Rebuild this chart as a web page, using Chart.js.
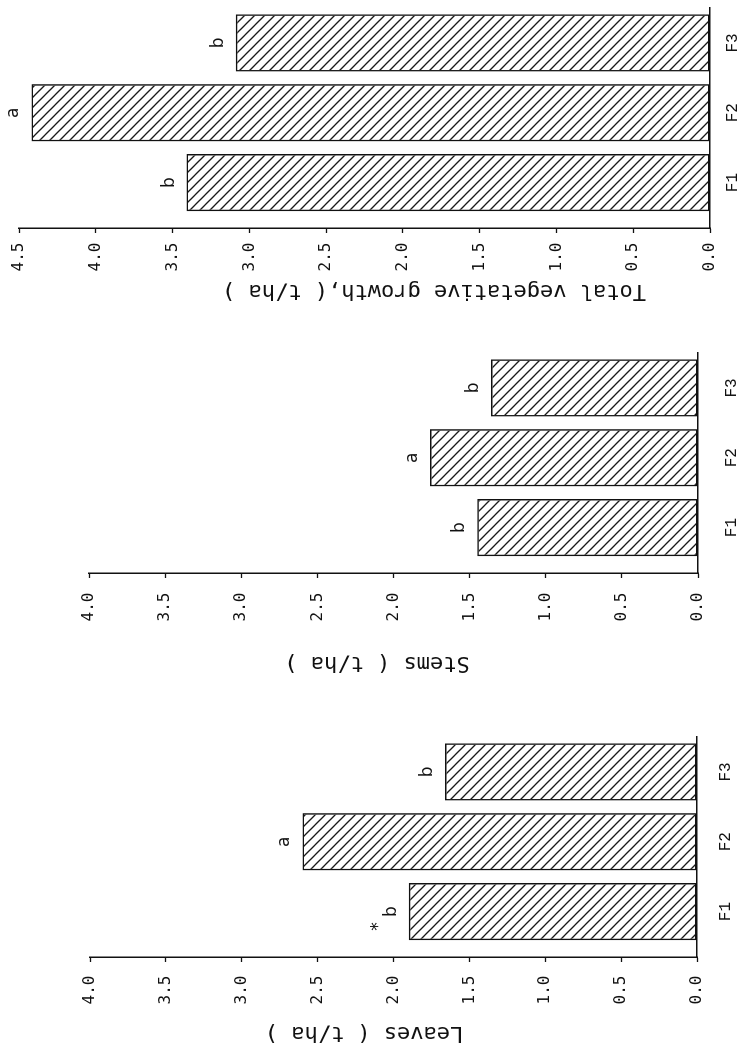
<!DOCTYPE html>
<html lang="en">
<head>
<meta charset="UTF-8" />
<title>Leaves, stems and total vegetative growth</title>
<script src="https://cdn.jsdelivr.net/npm/chart.js@4"></script>
<style>
  html, body { margin: 0; padding: 0; width: 747px; height: 1060px; overflow: hidden; background: #fff; }
  /* the figure is laid out upright (1060 x 747) and then turned a quarter to the left, like the scan */
  #page { position: absolute; left: 0; top: 0; width: 1060px; height: 747px;
          transform-origin: 0 0; transform: translate(0px, 1060px) rotate(-90deg); }
  #page canvas { position: absolute; top: 0; }
</style>
</head>
<body>
<div id="page">
  <canvas id="leaves" width="340" height="747" style="left:0px"></canvas>
  <canvas id="stems" width="340" height="747" style="left:380px"></canvas>
  <canvas id="total" width="340" height="747" style="left:720px"></canvas>
</div>
<script>
// values (t/ha)
const categories = ['F1', 'F2', 'F3'];
const leaves = [1.90, 2.60, 1.66];
const stems = [1.45, 1.76, 1.36];
const total = [3.41, 4.42, 3.09];

const leavesLetters = ['b', 'a', 'b'];
const leavesMarks = ['*', '', ''];
const stemsLetters = ['b', 'a', 'b'];
const totalLetters = ['b', 'a', 'b'];

const ticksTo4 = [0, 0.5, 1, 1.5, 2, 2.5, 3, 3.5, 4];
const ticksTo45 = [0, 0.5, 1, 1.5, 2, 2.5, 3, 3.5, 4, 4.5];

function hatch() {
  const c = document.createElement('canvas');
  c.width = 10; c.height = 10;
  const g = c.getContext('2d');
  g.strokeStyle = '#1a1a1a';
  g.lineWidth = 1.3;
  for (const k of [-10, 0, 10]) {
    g.beginPath();
    g.moveTo(k - 1, -1);
    g.lineTo(k + 11, 11);
    g.stroke();
  }
  return g.createPattern(c, 'repeat');
}

// significance letters above each bar
const barLetters = {
  id: 'barLetters',
  afterDatasetsDraw(chart, args, opts) {
    const ctx = chart.ctx;
    const bars = chart.getDatasetMeta(0).data;
    ctx.save();
    ctx.fillStyle = '#111';
    ctx.font = '17px "DejaVu Sans"';
    ctx.textAlign = 'center';
    ctx.textBaseline = 'alphabetic';
    bars.forEach((bar, i) => {
      ctx.fillText(opts.letters[i], bar.x, bar.y - 13);
      if (opts.marks && opts.marks[i]) ctx.fillText(opts.marks[i], bar.x - 15, bar.y - 26);
    });
    ctx.restore();
  }
};

// value axis title, placed like the original
const sideTitle = {
  id: 'sideTitle',
  afterDraw(chart, args, opts) {
    const ctx = chart.ctx;
    ctx.save();
    ctx.translate(opts.x, opts.y);
    ctx.rotate(-Math.PI / 2);
    ctx.font = '22px "DejaVu Sans Mono"';
    ctx.fillStyle = '#111';
    ctx.textAlign = 'center';
    ctx.textBaseline = 'middle';
    ctx.fillText(opts.text, 0, 0);
    ctx.restore();
  }
};

function panel(id, values, letters, marks, ticks, title, lay) {
  return new Chart(document.getElementById(id), {
    type: 'bar',
    data: {
      datasets: [{
        data: values.map((v, i) => ({ x: i + 1, y: v })),
        backgroundColor: hatch(),
        borderColor: '#111',
        borderWidth: 1.5,
        borderSkipped: false,
        barPercentage: 0.82,
        categoryPercentage: 1
      }]
    },
    options: {
      responsive: false,
      animation: false,
      devicePixelRatio: 1,
      layout: { padding: { top: lay.top, right: lay.right, left: 0, bottom: 0 } },
      plugins: {
        legend: { display: false },
        tooltip: { enabled: false },
        barLetters: { letters: letters, marks: marks },
        sideTitle: { text: title, x: lay.tx, y: lay.ty }
      },
      scales: {
        x: {
          type: 'linear',
          min: 0.35,
          max: 3.5,
          offset: false,
          grid: { display: false, drawTicks: false, offset: false },
          border: { display: true, color: '#111', width: 1.6 },
          afterBuildTicks: s => { s.ticks = categories.map((c, i) => ({ value: i + 1 })); },
          afterFit: s => { s.height = lay.xh; },
          ticks: {
            padding: lay.xpad,
            color: '#111',
            autoSkip: false,
            maxRotation: 0,
            font: { family: '"Liberation Mono"', size: 16 },
            callback: v => categories[v - 1] ?? ''
          }
        },
        y: {
          min: 0,
          max: ticks[ticks.length - 1],
          grid: { drawOnChartArea: false, drawTicks: true, tickLength: 5, color: '#111', tickColor: '#111', tickWidth: 1.3 },
          border: { color: '#111', width: 1.5 },
          afterBuildTicks: s => { s.ticks = ticks.map(v => ({ value: v })); },
          afterFit: s => { s.width = lay.yw; },
          ticks: {
            padding: lay.ypad,
            color: '#111',
            font: { family: '"DejaVu Sans Mono"', size: 16 },
            callback: v => Number(v).toFixed(1)
          }
        }
      }
    },
    plugins: [barLetters, sideTitle]
  });
}

panel('leaves', leaves, leavesLetters, leavesMarks, ticksTo4, 'Leaves ( t/ha )',
  { top: 90, right: 17, xh: 50, yw: 103, ypad: 13.6, xpad: 19.4, tx: 27, ty: 364 });
panel('stems', stems, stemsLetters, null, ticksTo4, 'Stems ( t/ha )',
  { top: 89, right: 13, xh: 49, yw: 107, ypad: 14.6, xpad: 24.4, tx: 17, ty: 377 });
panel('total', total, totalLetters, null, ticksTo45, 'Total vegetative growth,( t/ha )',
  { top: 15, right: 8, xh: 37, yw: 112, ypad: 9.6, xpad: 13.4, tx: 49, ty: 434 });
</script>
</body>
</html>
